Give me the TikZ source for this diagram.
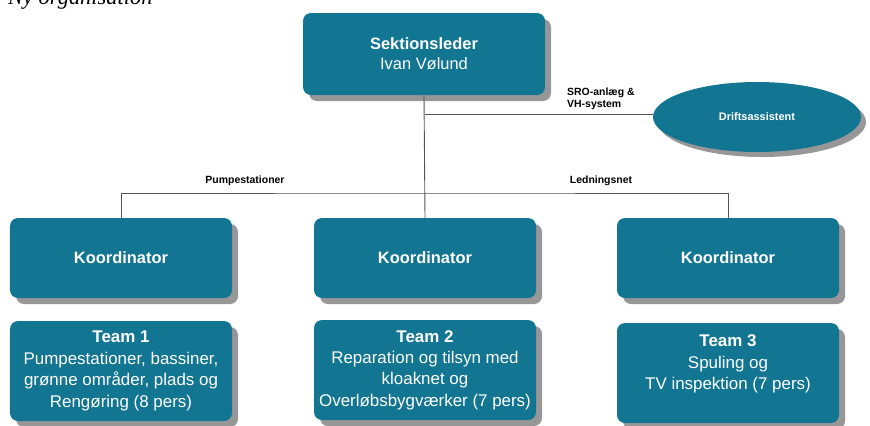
\documentclass[tikz,border=0pt]{standalone}
\usepackage{fontspec}
\setmainfont{Liberation Sans}
\newfontfamily\titlefont{Liberation Serif}
\usetikzlibrary{shapes.geometric,shadows}

\definecolor{teal}{RGB}{18,117,146}
\definecolor{linegray}{RGB}{85,85,85}

\begin{document}
\begin{tikzpicture}[x=1bp,y=-1bp]
  \tikzset{orgbox/.style={fill=teal,text=white,rounded corners=8bp,align=center,
      minimum width=222bp,minimum height=80bp,inner sep=0pt,
      drop shadow={shadow xshift=6bp,shadow yshift=-6bp,fill=black!45,opacity=0.9}},
    teambox/.style={orgbox,minimum height=100bp,font=\fontsize{17}{21.5}\selectfont},
    link/.style={draw=linegray,line width=0.9bp},
    smalllabel/.style={font=\bfseries\fontsize{10.5}{12.5}\selectfont,inner sep=0pt}}
  \useasboundingbox (0,0) rectangle (870,425);

  \node[anchor=base west,inner sep=0pt,font=\titlefont\itshape\fontsize{22.5}{26}\selectfont] (title) at (8,4) {Ny organisation};

  % top
  \node[orgbox,minimum width=242bp,minimum height=82bp,font=\fontsize{16.5}{20}\selectfont] (sek) at (424,54) {\textbf{Sektionsleder}\\Ivan Vølund};
  \node[ellipse,fill=teal,text=white,minimum width=208bp,minimum height=70bp,inner sep=0pt,
    font=\bfseries\fontsize{11}{13}\selectfont,
    drop shadow={shadow xshift=5bp,shadow yshift=-5bp,fill=black!45,opacity=0.9}] (drift) at (757,117) {Driftsassistent};

  % koordinatorer
  \node[orgbox,font=\bfseries\fontsize{16.5}{20}\selectfont] (koord1) at (121,258) {Koordinator};
  \node[orgbox,font=\bfseries\fontsize{16.5}{20}\selectfont] (koord2) at (425,258) {Koordinator};
  \node[orgbox,font=\bfseries\fontsize{16.5}{20}\selectfont] (koord3) at (728,258) {Koordinator};

  % teams
  \node[teambox] (team1) at (121,371) {\textbf{Team 1}\\Pumpestationer, bassiner,\\grønne områder, plads og\\Rengøring (8 pers)};
  \node[teambox] (team2) at (425,370) {\textbf{Team 2}\\Reparation og tilsyn med\\kloaknet og\\Overløbsbygværker (7 pers)};
  \node[teambox] (team3) at (728,373) {\textbf{Team 3}\\Spuling og\\TV inspektion (7 pers)\\\mbox{}};

  % forbindelser
  \coordinate (sro) at (425,114);
  \coordinate (bar) at (425,193);
  \draw[link] (sek.south) -- (koord2.north);
  \draw[link] (sro) -- (sro -| drift.west);
  \draw[link] (koord1.north) |- (bar) -| (koord3.north);

  \node[smalllabel,anchor=west,align=left] (srolabel) at (567,99) {SRO-anlæg \&\\VH-system};
  \node[smalllabel] (pumplabel) at (245,181) {Pumpestationer};
  \node[smalllabel] (ledlabel) at (601,181) {Ledningsnet};
\end{tikzpicture}
\end{document}
